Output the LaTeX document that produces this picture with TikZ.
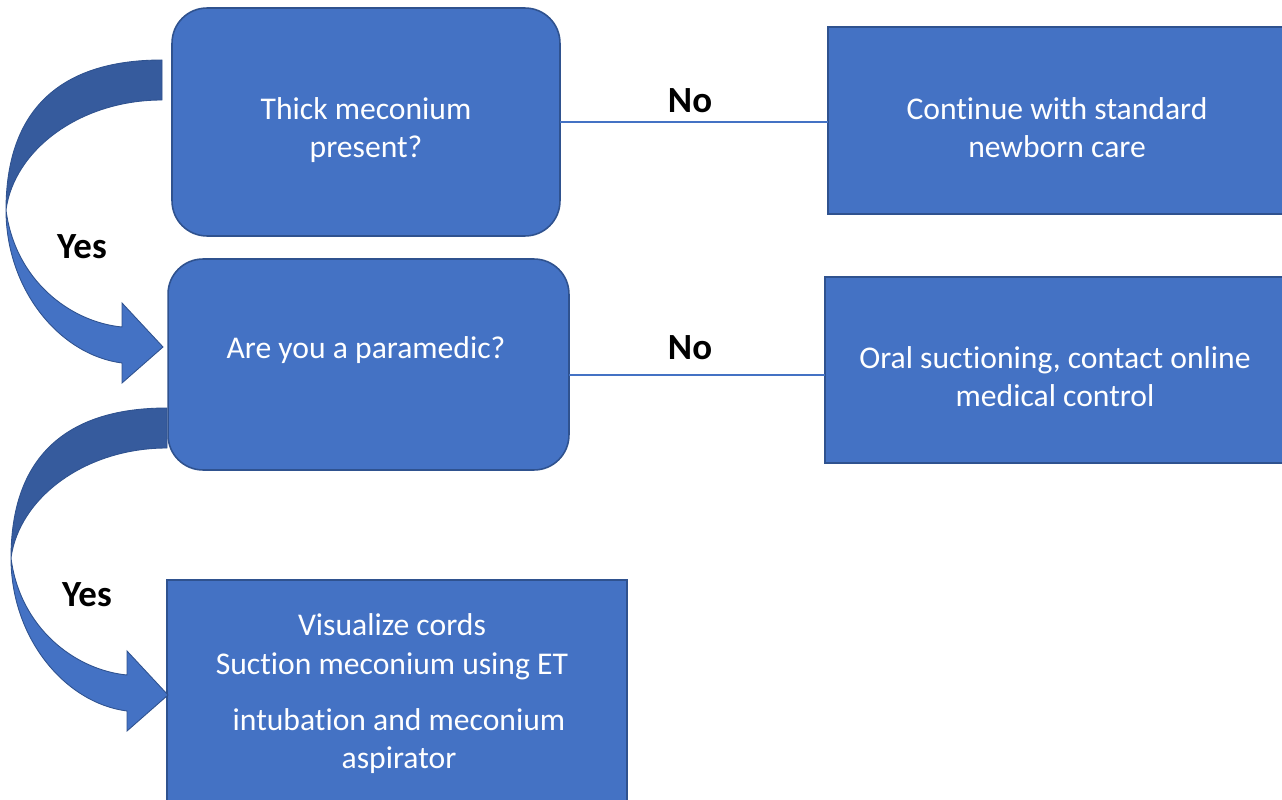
\documentclass[tikz,border=0pt]{standalone}
\usepackage{fontspec}
\setmainfont{Carlito}[Ligatures={NoCommon,NoContextual,NoRequired},Contextuals=NoAlternate]
\usepackage{tikz}

\definecolor{boxfill}{HTML}{4472C4}
\definecolor{boxline}{HTML}{2F528F}
\definecolor{arrowback}{HTML}{365B9D}

\tikzset{
  decision/.style={draw=boxline, fill=boxfill, line width=0.9pt, rounded corners=0.7cm, inner sep=0pt, outer sep=0pt},
  action/.style={draw=boxline, fill=boxfill, line width=0.9pt, inner sep=0pt, outer sep=0pt},
  boxtext/.style={text=white, align=center, font=\fontsize{18}{22}\selectfont},
  answer/.style={font=\fontsize{21}{24}\selectfont\bfseries},
  link/.style={draw=boxfill, line width=1.5pt},
  yesarrow/.pic={
    \filldraw[fill=arrowback, draw=boxline, line width=0.5pt]
      (162,60) .. controls (60,60) and (6,110) .. (6,210)
      .. controls (14,150) and (80,100) .. (162,100) -- cycle;
    \filldraw[fill=boxfill, draw=boxline, line width=0.5pt]
      (6,210) .. controls (6,290) and (60,355) .. (122,363)
      -- (122,383) -- (163,347) -- (122,303) -- (122,327)
      .. controls (70,322) and (15,280) .. (6,210) -- cycle;
  }
}

\begin{document}
\begin{tikzpicture}[x=0.02cm, y=-0.02cm]
    \useasboundingbox (0,0) rectangle (1282,800);

    % boxes
    \node[decision, minimum width=7.76cm, minimum height=4.56cm] (meconium) at (366,122) {};
    \node[decision, minimum width=8.02cm, minimum height=4.22cm] (paramedic) at (368.5,364.5) {};
    \node[action, minimum width=9.28cm, minimum height=3.74cm] (standard) at (1060,120.5) {};
    \node[action, minimum width=9.34cm, minimum height=3.72cm] (oral) at (1058.5,370) {};
    \node[action, minimum width=9.2cm, minimum height=5cm] (intubate) at (397,705) {};

    % texts
    \node[boxtext] (meconiumtext) at (366,130) {Thick meconium\\present?};
    \node[boxtext] (paramedictext) at (366,350) {Are you a paramedic?};
    \node[boxtext] (standardtext) at (1057,127.5) {Continue with standard\\newborn care};
    \node[boxtext] (oraltext) at (1055,376.5) {Oral suctioning, contact online\\medical control};
    \node[boxtext] (cordstext) at (392,647) {Visualize cords\\Suction meconium using ET};
    \node[boxtext] (aspiratortext) at (399,741) {intubation and meconium\\aspirator};

    % no branches
    \draw[link] (meconium.east) -- (meconium.east -| standard.west);
    \node[answer] (no1) at (690,101) {No};
    \draw[link] (paramedic.-3.3) -- (paramedic.-3.3 -| oral.west);
    \node[answer] (no2) at (690,348) {No};

    % yes branches
    \pic (yes1) at (0,0) {yesarrow};
    \node[answer] (yes1label) at (82,247) {Yes};
    \pic (yes2) at (5,348) {yesarrow};
    \node[answer] (yes2label) at (87,595) {Yes};
\end{tikzpicture}
\end{document}
